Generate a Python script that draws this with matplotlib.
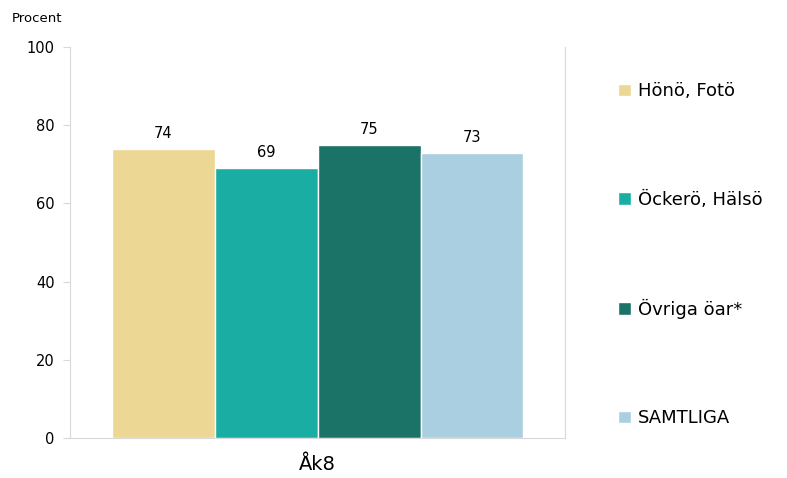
import numpy as np
import matplotlib.pyplot as plt

groups = ['Hönö, Fotö', 'Öckerö, Hälsö', 'Övriga öar*', 'SAMTLIGA']
values = [74, 69, 75, 73]
colors = ['#EDD795', '#1AADA4', '#1B7267', '#AACFE0']
category = 'Åk8'

fig = plt.figure(figsize=(7.87, 4.78), dpi=100)
ax = fig.add_axes([0.089, 0.0837, 0.629, 0.818])

w = 0.208
n = len(values)
for i, (g, v, c) in enumerate(zip(groups, values, colors)):
    x = (i - (n - 1) / 2) * w
    ax.bar(x, v, w, color=c, edgecolor='white', linewidth=1, label=g)
    ax.text(x, v + 2, '%d' % v, ha='center', va='bottom', fontsize=10.5)

ax.set_xlim(-0.5, 0.5)
ax.set_ylim(0, 100)
ax.set_yticks(np.arange(0, 101, 20))
ax.set_xticks([0])
ax.set_xticklabels([category], fontsize=14)
ax.tick_params(axis='y', labelsize=10.5, length=5, color='#d9d9d9', pad=6)
ax.tick_params(axis='x', length=0, pad=12)
for s in ['left', 'right', 'bottom']:
    ax.spines[s].set_color('#d9d9d9')
ax.spines['top'].set_visible(False)

fig.text(0.015, 0.955, 'Procent', fontsize=9.5)

fig.legend(loc='upper left', bbox_to_anchor=(0.765, 0.862), frameon=False,
           fontsize=13, handlelength=0.7, handleheight=0.7, handletextpad=0.4,
           labelspacing=5.0)

fig.savefig('out.png', dpi=100)
